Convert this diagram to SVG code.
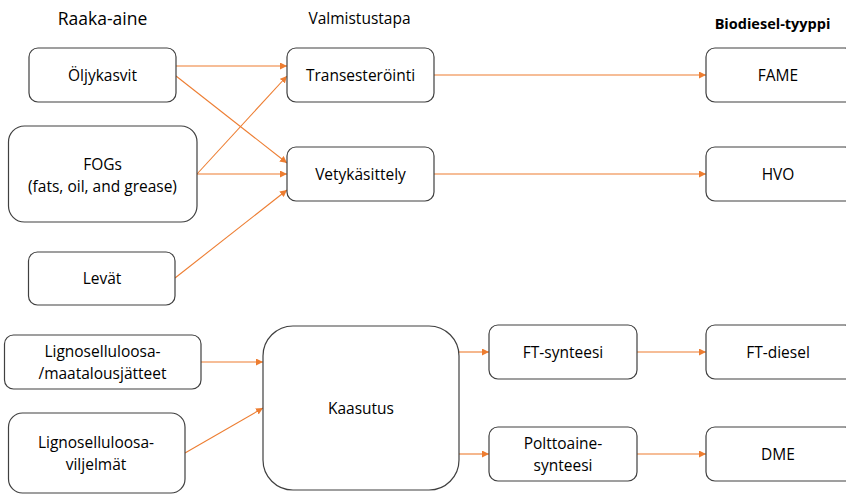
<svg xmlns="http://www.w3.org/2000/svg" width="846" height="495" viewBox="0 0 846 495">
<defs>
<marker id="ah" viewBox="0 0 10 10" refX="10" refY="5" markerWidth="7" markerHeight="7" markerUnits="userSpaceOnUse" orient="auto">
<path d="M0,0 L10,5 L0,10 z" fill="#ED7D31"/>
</marker>
<style>
.box{fill:#fff;stroke:#404040;stroke-width:1.2}
.t{font-family:"Open Sans","Liberation Sans",Arial,sans-serif;font-size:15.5px;fill:#000;text-anchor:middle}
.h{font-family:"Open Sans","Liberation Sans",Arial,sans-serif;fill:#000;text-anchor:middle}
.c{stroke:#ED7D31;stroke-width:1.1;fill:none;marker-end:url(#ah)}
</style>
</defs>
<rect width="846" height="495" fill="#fff"/>
<text class="h" x="102.5" y="25" font-size="17.5">Raaka-aine</text>
<text class="h" x="359.5" y="24" font-size="15.5">Valmistustapa</text>
<text class="h" x="772.5" y="29" font-size="14.5" font-weight="bold">Biodiesel-tyyppi</text>

<g id="connectors">
<line class="c" x1="176" y1="66" x2="287" y2="66"/>
<line class="c" x1="176" y1="76" x2="287" y2="163"/>
<line class="c" x1="197" y1="174" x2="287" y2="76"/>
<line class="c" x1="197" y1="174" x2="287" y2="174"/>
<line class="c" x1="175" y1="278" x2="287" y2="190"/>
<line class="c" x1="434" y1="75" x2="706" y2="75"/>
<line class="c" x1="434" y1="174" x2="706" y2="174"/>
<line class="c" x1="201" y1="362" x2="263" y2="362"/>
<line class="c" x1="185" y1="453" x2="263" y2="408"/>
<line class="c" x1="459" y1="352" x2="489" y2="352"/>
<line class="c" x1="459" y1="454" x2="489" y2="454"/>
<line class="c" x1="637" y1="352" x2="706" y2="352"/>
<line class="c" x1="637" y1="454" x2="706" y2="454"/>
</g>

<g id="oljykasvit"><rect class="box" x="29" y="48" width="147" height="54" rx="9"/><text class="t" x="102.5" y="81">Öljykasvit</text></g>
<g id="fogs"><rect class="box" x="8.5" y="126" width="188.5" height="96" rx="16"/><text class="t" x="102.5" y="170">FOGs</text><text class="t" x="102.5" y="192">(fats, oil, and grease)</text></g>
<g id="levat"><rect class="box" x="28.5" y="252" width="146.5" height="53" rx="9"/><text class="t" x="102" y="284">Levät</text></g>
<g id="ligno1"><rect class="box" x="4.5" y="335" width="196.5" height="54" rx="9"/><text class="t" x="102.5" y="357">Lignoselluloosa-</text><text class="t" x="102.5" y="379">/maatalousjätteet</text></g>
<g id="ligno2"><rect class="box" x="8.5" y="413" width="176.5" height="80" rx="14"/><text class="t" x="96" y="448">Lignoselluloosa-</text><text class="t" x="96" y="470">viljelmät</text></g>
<g id="trans"><rect class="box" x="287" y="48" width="147" height="54" rx="9"/><text class="t" x="360.5" y="81">Transesteröinti</text></g>
<g id="vety"><rect class="box" x="287" y="147" width="147" height="54" rx="9"/><text class="t" x="360.5" y="180">Vetykäsittely</text></g>
<g id="kaasutus"><rect class="box" x="263" y="326" width="196" height="164" rx="30"/><text class="t" x="361" y="414">Kaasutus</text></g>
<g id="ftsyn"><rect class="box" x="489" y="325" width="148" height="54" rx="9"/><text class="t" x="563" y="358">FT-synteesi</text></g>
<g id="polt"><rect class="box" x="489" y="427" width="148" height="54" rx="9"/><text class="t" x="563" y="449">Polttoaine-</text><text class="t" x="563" y="471">synteesi</text></g>
<g id="fame"><rect class="box" x="706" y="48" width="148" height="54" rx="9"/><text class="t" x="778" y="81">FAME</text></g>
<g id="hvo"><rect class="box" x="706" y="147" width="148" height="54" rx="9"/><text class="t" x="778" y="180">HVO</text></g>
<g id="ftdiesel"><rect class="box" x="706" y="325" width="148" height="54" rx="9"/><text class="t" x="778" y="358">FT-diesel</text></g>
<g id="dme"><rect class="box" x="706" y="427" width="148" height="54" rx="9"/><text class="t" x="778" y="460">DME</text></g>
</svg>
